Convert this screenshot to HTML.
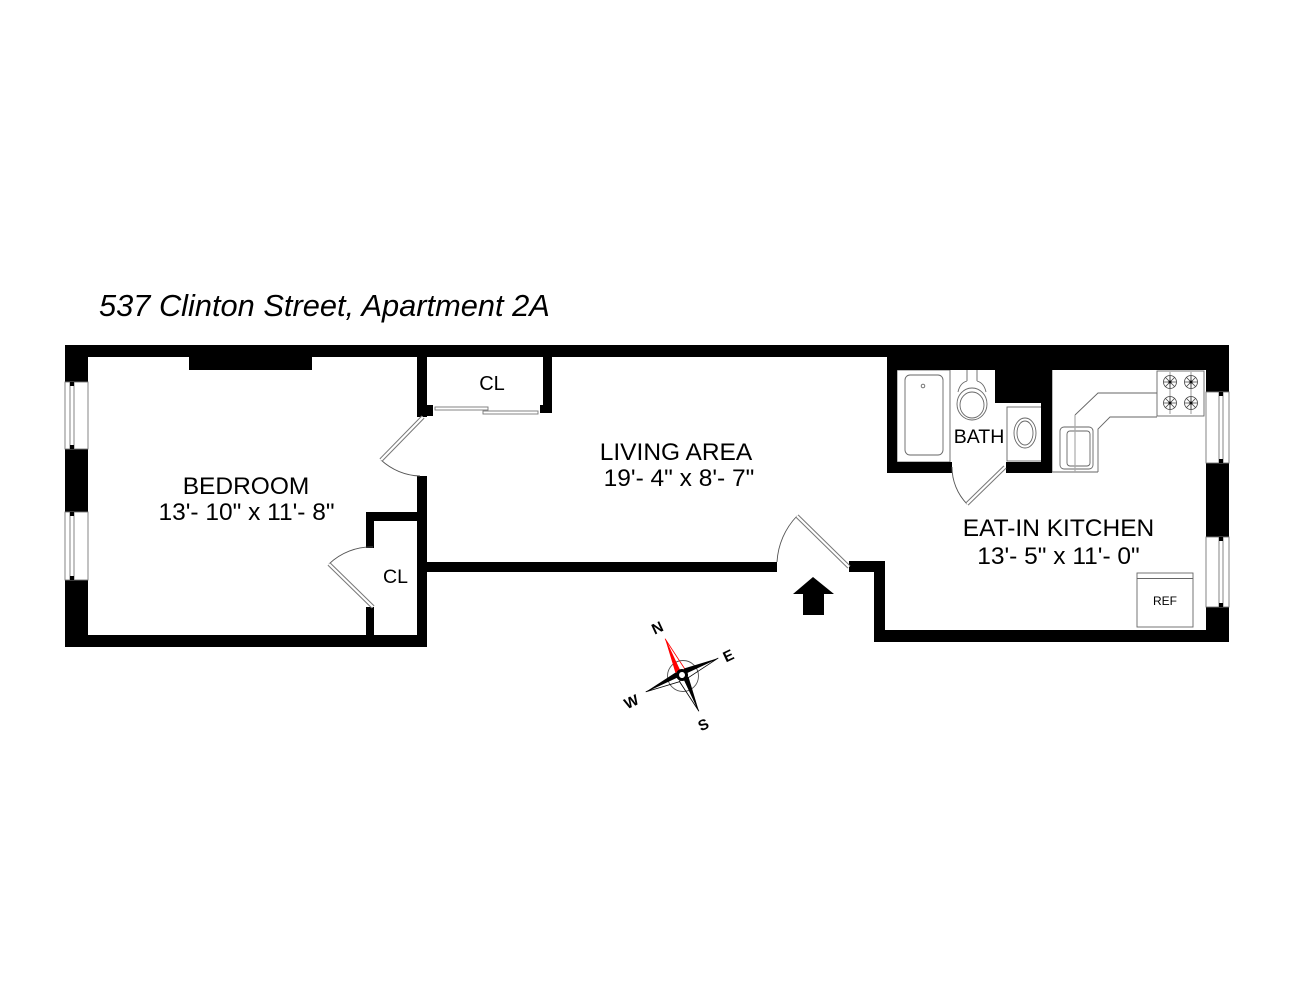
<!DOCTYPE html>
<html>
<head>
<meta charset="utf-8">
<style>
html,body{margin:0;padding:0;background:#fff;}
svg{display:block;}
text{font-family:"Liberation Sans",Arial,sans-serif;fill:#000;}
</style>
</head>
<body>
<svg width="1294" height="1000" viewBox="0 0 1294 1000" xmlns="http://www.w3.org/2000/svg">
<rect x="0" y="0" width="1294" height="1000" fill="#fff"/>

<!-- Title -->
<text x="99" y="316" font-size="30.8" font-style="italic">537 Clinton Street, Apartment 2A</text>

<!-- ===== Thin interior fixtures (drawn first) ===== -->
<g fill="none" stroke="#666" stroke-width="0.9">
  <!-- bath tub alcove -->
  <rect x="897" y="370" width="53" height="92"/>
  <rect x="905" y="375" width="38" height="80" rx="5"/>
  <circle cx="923" cy="386" r="1.8"/>
  <!-- toilet -->
  <line x1="967" y1="370" x2="967" y2="381"/>
  <line x1="977" y1="370" x2="977" y2="381"/>
  <path d="M967,381 Q960,383 958,392"/>
  <path d="M977,381 Q984,383 986,392"/>
  <ellipse cx="972" cy="404" rx="15" ry="16"/>
  <ellipse cx="972" cy="405" rx="12" ry="13"/>
  <!-- bath sink counter -->
  <rect x="1007" y="407" width="35" height="54"/>
  <ellipse cx="1025" cy="433" rx="11" ry="15"/>
  <ellipse cx="1025" cy="433" rx="8" ry="12"/>
  <!-- kitchen counter -->
  <line x1="1052" y1="370" x2="1052" y2="472"/>
  <line x1="1052" y1="472" x2="1098" y2="472"/>
  <path d="M1157,393 L1098,393 L1075,415"/>
  <path d="M1157,417 L1110,417 L1098,429 L1098,472"/>
  <rect x="1060" y="427" width="33" height="42" rx="4"/>
  <rect x="1067" y="431" width="23" height="35" rx="3"/>
  <!-- stove -->
  <rect x="1157" y="371" width="47" height="45"/>
  <!-- ref -->
  <rect x="1137" y="573" width="56" height="54" fill="#fff"/>
  <line x1="1137" y1="578.5" x2="1193" y2="578.5"/>
</g>
<g stroke="#aaa" stroke-width="1.2" fill="none">
  <line x1="1075" y1="415" x2="1075" y2="472"/>
  <line x1="1170" y1="372" x2="1170" y2="414"/>
  <line x1="1191" y1="372" x2="1191" y2="414"/>
</g>
<!-- burners -->
<g fill="none" stroke="#444" stroke-width="0.8">
  <g transform="translate(1170,382)"><circle r="6.5"/><path d="M-6.5,0H6.5M0,-6.5V6.5M-4.6,-4.6L4.6,4.6M-4.6,4.6L4.6,-4.6"/><circle r="1.4" fill="#000"/></g>
  <g transform="translate(1191,382)"><circle r="6.5"/><path d="M-6.5,0H6.5M0,-6.5V6.5M-4.6,-4.6L4.6,4.6M-4.6,4.6L4.6,-4.6"/><circle r="1.4" fill="#000"/></g>
  <g transform="translate(1170,403)"><circle r="6.5"/><path d="M-6.5,0H6.5M0,-6.5V6.5M-4.6,-4.6L4.6,4.6M-4.6,4.6L4.6,-4.6"/><circle r="1.4" fill="#000"/></g>
  <g transform="translate(1191,403)"><circle r="6.5"/><path d="M-6.5,0H6.5M0,-6.5V6.5M-4.6,-4.6L4.6,4.6M-4.6,4.6L4.6,-4.6"/><circle r="1.4" fill="#000"/></g>
</g>

<!-- ===== Walls ===== -->
<g fill="#000">
  <rect x="65" y="345" width="822" height="12"/>
  <rect x="887" y="345" width="342" height="25"/>
  <rect x="65" y="345" width="23" height="302"/>
  <rect x="65" y="635" width="362" height="12"/>
  <rect x="189" y="357" width="123" height="13"/>
  <!-- bedroom right wall -->
  <rect x="417" y="357" width="10" height="60"/>
  <rect x="417" y="405" width="16" height="11"/>
  <rect x="417" y="476" width="10" height="171"/>
  <!-- bedroom closet -->
  <rect x="366" y="512" width="51" height="9"/>
  <rect x="366" y="512" width="8" height="36"/>
  <rect x="366" y="607" width="8" height="28"/>
  <!-- living lower wall -->
  <rect x="417" y="562" width="360" height="10"/>
  <!-- living closet -->
  <rect x="543" y="357" width="9" height="56"/>
  <rect x="540" y="405" width="12" height="8"/>
  <!-- bath -->
  <rect x="887" y="357" width="10" height="116"/>
  <rect x="887" y="462" width="65" height="11"/>
  <rect x="1006" y="462" width="46" height="11"/>
  <rect x="1041" y="357" width="11" height="116"/>
  <rect x="995" y="370" width="57" height="33"/>
  <!-- right side -->
  <rect x="1206" y="345" width="23" height="297"/>
  <rect x="874" y="630" width="355" height="12"/>
  <rect x="874" y="561" width="11" height="81"/>
  <rect x="849" y="561" width="36" height="11"/>
</g>

<!-- ===== Windows ===== -->
<g stroke="#777" stroke-width="0.9">
  <rect x="65" y="382" width="23" height="67" fill="#fff"/>
  <rect x="70" y="382" width="4" height="67" fill="#fff"/>
  <rect x="65" y="512" width="23" height="68" fill="#fff"/>
  <rect x="70" y="512" width="4" height="68" fill="#fff"/>
  <rect x="1206" y="392" width="23" height="71" fill="#fff"/>
  <rect x="1219" y="392" width="4" height="71" fill="#fff"/>
  <rect x="1206" y="537" width="23" height="70" fill="#fff"/>
  <rect x="1219" y="537" width="4" height="70" fill="#fff"/>
</g>
<g fill="#000">
  <rect x="70" y="382" width="4" height="4"/><rect x="70" y="445" width="4" height="4"/>
  <rect x="70" y="512" width="4" height="4"/><rect x="70" y="576" width="4" height="4"/>
  <rect x="1219" y="392" width="4" height="4"/><rect x="1219" y="459" width="4" height="4"/>
  <rect x="1219" y="537" width="4" height="4"/><rect x="1219" y="603" width="4" height="4"/>
</g>

<!-- ===== Doors ===== -->
<g fill="none" stroke="#555" stroke-width="0.9">
  <path d="M381,460 A60,60 0 0 0 420,476"/>
  <path d="M329,564 A61,61 0 0 1 373,547"/>
  <path d="M797,516 A72,72 0 0 0 777,562"/>
  <path d="M967,504 A53,53 0 0 1 952,467"/>
</g>
<g stroke-linecap="butt">
  <g stroke="#777" stroke-width="4.2">
    <line x1="423" y1="417" x2="381" y2="460"/>
    <line x1="373" y1="607" x2="329" y2="564"/>
    <line x1="849" y1="567" x2="797" y2="516"/>
    <line x1="1005" y1="467" x2="967" y2="504"/>
  </g>
  <g stroke="#fff" stroke-width="2.2">
    <line x1="423" y1="417" x2="381" y2="460"/>
    <line x1="373" y1="607" x2="329" y2="564"/>
    <line x1="849" y1="567" x2="797" y2="516"/>
    <line x1="1005" y1="467" x2="967" y2="504"/>
  </g>
</g>
<!-- closet sliding doors -->
<g fill="#fff" stroke="#777" stroke-width="0.9">
  <rect x="435" y="407" width="53" height="3"/>
  <rect x="483" y="411" width="55" height="3"/>
</g>

<!-- entry arrow -->
<polygon points="813,577 834,594 824,594 824,615 803,615 803,594 793,594" fill="#000"/>

<!-- ===== Labels ===== -->
<g font-size="24.5" text-anchor="middle">
  <text x="246" y="494">BEDROOM</text>
  <text x="246.5" y="520">13'- 10" x 11'- 8"</text>
  <text x="676" y="460">LIVING AREA</text>
  <text x="679" y="486">19'- 4" x 8'- 7"</text>
  <text x="1058.5" y="536">EAT-IN KITCHEN</text>
  <text x="1058.5" y="564">13'- 5" x 11'- 0"</text>
</g>
<text x="979" y="443" font-size="19.5" text-anchor="middle">BATH</text>
<text x="492" y="390" font-size="20" text-anchor="middle">CL</text>
<text x="395.5" y="583" font-size="19.5" text-anchor="middle">CL</text>
<text x="1165" y="605" font-size="12" text-anchor="middle">REF</text>

<!-- ===== Compass ===== -->
<circle cx="683" cy="676" r="15.5" fill="none" stroke="#555" stroke-width="0.9"/>
<g transform="translate(682,675) rotate(-25)">
  <!-- N -->
  <polygon points="0,-40 -5,-5 0,0" fill="#f00"/>
  <polygon points="0,-40 5,-5 0,0" fill="none" stroke="#f00" stroke-width="0.8"/>
  <!-- E -->
  <polygon points="40,0 5,-5 0,0" fill="#000"/>
  <polygon points="40,0 5,5 0,0" fill="none" stroke="#000" stroke-width="0.8"/>
  <!-- S -->
  <polygon points="0,40 5,5 0,0" fill="#000"/>
  <polygon points="0,40 -5,5 0,0" fill="none" stroke="#000" stroke-width="0.8"/>
  <!-- W -->
  <polygon points="-40,0 -5,-5 0,0" fill="#000"/>
  <polygon points="-40,0 -5,5 0,0" fill="none" stroke="#000" stroke-width="0.8"/>
  <circle cx="0" cy="0" r="6" fill="#000"/>
  <circle cx="0" cy="0" r="3" fill="#fff"/>
</g>
<g font-size="15" font-weight="bold" text-anchor="middle">
  <text x="657" y="633" transform="rotate(-25 657 627)">N</text>
  <text x="728" y="661" transform="rotate(-25 728 655)">E</text>
  <text x="703" y="730" transform="rotate(-25 703 724)">S</text>
  <text x="631" y="707" transform="rotate(-25 631 701)">W</text>
</g>
</svg>
</body>
</html>
